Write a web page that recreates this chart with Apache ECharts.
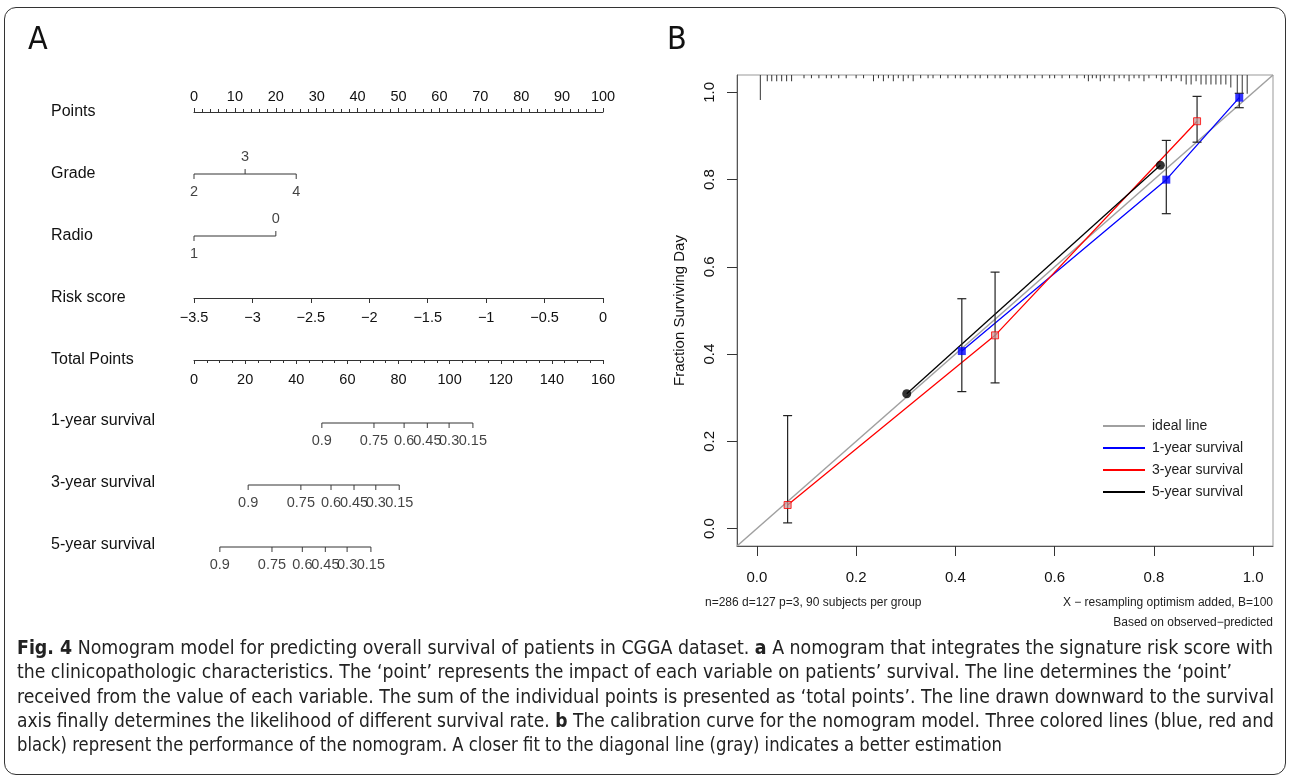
<!DOCTYPE html>
<html>
<head>
<meta charset="utf-8">
<script src="https://cdn.jsdelivr.net/npm/echarts@6/dist/echarts.min.js"></script>
<style>
html, body { margin: 0; padding: 0; background: #fff; }
#wrap { position: relative; width: 1290px; height: 780px; overflow: hidden; }
#chart { position: absolute; left: 0; top: 0; width: 1290px; height: 780px; }
.frame { position: absolute; left: 4px; top: 7px; width: 1282px; height: 768px; border: 1.5px solid #333; border-radius: 12px; box-sizing: border-box; }
.panel { position: absolute; top: 19px; font-family: "DejaVu Sans Condensed", "Liberation Sans Narrow", "Liberation Sans", sans-serif; font-size: 32px; color: #111; }
#caption { position: absolute; left: 17px; top: 635px; font-family: "DejaVu Sans Condensed", "Liberation Sans Narrow", "Liberation Sans", sans-serif; font-size: 19px; line-height: 24.3px; color: #222; }
#caption div { white-space: nowrap; transform-origin: 0 50%; width: max-content; }
</style>
</head>
<body>
<div id="wrap">
  <div id="chart"></div>
  <div class="frame"></div>
  <div class="panel" style="left:28px">A</div>
  <div class="panel" style="left:667px">B</div>
  <div id="caption">
    <div><b>Fig. 4</b> Nomogram model for predicting overall survival of patients in CGGA dataset. <b>a</b> A nomogram that integrates the signature risk score with</div>
    <div>the clinicopathologic characteristics. The ‘point’ represents the impact of each variable on patients’ survival. The line determines the ‘point’</div>
    <div>received from the value of each variable. The sum of the individual points is presented as ‘total points’. The line drawn downward to the survival</div>
    <div>axis finally determines the likelihood of different survival rate. <b>b</b> The calibration curve for the nomogram model. Three colored lines (blue, red and</div>
    <div>black) represent the performance of the nomogram. A closer fit to the diagonal line (gray) indicates a better estimation</div>
  </div>
</div>
<script>
// --- nomogram (panel A) ---
const rowNames = ['Points', 'Grade', 'Radio', 'Risk score', 'Total Points', '1-year survival', '3-year survival', '5-year survival'];
const gradeLevels = ['2', '3', '4'];
const gradePoints = [0, 12.5, 25];
const radioLevels = ['1', '0'];
const radioPoints = [0, 20];
const survLabels = ['0.9', '0.75', '0.6', '0.45', '0.3', '0.15'];
const surv1yPoints = [50.0, 70.4, 82.2, 91.3, 99.8, 109.1];
const surv3yPoints = [21.2, 41.8, 53.6, 62.6, 71.1, 80.3];
const surv5yPoints = [10.1, 30.5, 42.4, 51.4, 59.9, 69.2];

// --- calibration (panel B) ---
const calRange = [-0.04, 1.04];
const calTicks = [0, 0.2, 0.4, 0.6, 0.8, 1.0];
const cal1y = [[0.413, 0.407], [0.825, 0.800], [0.972, 0.988]];
const cal3y = [[0.062, 0.054], [0.480, 0.443], [0.887, 0.934]];
const cal5y = [[0.302, 0.309], [0.813, 0.833]];
const err1y = [[0.413, 0.314, 0.527], [0.825, 0.722, 0.890], [0.972, 0.965, 0.998]];
const err3y = [[0.062, 0.013, 0.259], [0.480, 0.334, 0.588], [0.887, 0.886, 0.991]];
const rugX = [0.007, 0.021, 0.030, 0.040, 0.050, 0.060, 0.070, 0.095, 0.110, 0.125, 0.140, 0.150, 0.165, 0.180, 0.200, 0.215,
  0.235, 0.245, 0.255, 0.265, 0.275, 0.285, 0.295, 0.305, 0.315, 0.330, 0.345, 0.355, 0.370, 0.385, 0.400, 0.410, 0.425,
  0.440, 0.450, 0.465, 0.480, 0.490, 0.505, 0.520, 0.530, 0.545, 0.560, 0.575, 0.590, 0.600, 0.615, 0.630, 0.645,
  0.660, 0.668, 0.676, 0.684, 0.692, 0.700, 0.710, 0.720, 0.730, 0.740, 0.750, 0.760, 0.770, 0.780, 0.790,
  0.805, 0.815, 0.825, 0.835, 0.845, 0.855, 0.865, 0.875, 0.885, 0.895, 0.905, 0.915, 0.925, 0.935, 0.945, 0.955,
  0.968, 0.978, 0.988];
const rugH = [8, 2, 2, 2, 2, 2, 2, 1, 1, 1, 1, 1, 1, 1, 1, 1,
  2, 1, 2, 1, 2, 1, 2, 1, 2, 1, 1, 1, 1, 1, 1, 1, 1,
  1, 1, 1, 1, 1, 1, 1, 1, 1, 1, 1, 1, 1, 1, 1, 1,
  1, 2, 1, 1, 2, 1, 1, 2, 1, 1, 2, 1, 1, 2, 1,
  1, 2, 1, 2, 1, 2, 3, 3, 2, 3, 3, 3, 3, 3, 3, 4,
  6, 6, 6];

const FONT = '"Liberation Sans", Arial, sans-serif';
const INK = '#333';
const rowY = [112, 174, 236, 298, 360, 423, 485, 547];

const chart = echarts.init(document.getElementById('chart'));

const grids = rowY.map((y, i) => {
  if (i === 0) return { left: 194, width: 409, top: y, height: 10 };
  if (i === 3 || i === 4) return { left: 194, width: 409, top: y - 10, height: 10 };
  return { left: 194, width: 409, top: y - 10, height: 20 };
});
grids.push({ left: 737, top: 75, width: 536, height: 471, show: true, borderColor: '#999', borderWidth: 1 });

const minus = v => String(v).replace('-', '\u2212');
const tickLabel = { fontSize: 14.5, color: '#111', fontFamily: FONT };

function hiddenX(i, max) {
  return { gridIndex: i, type: 'value', min: 0, max: max, show: false };
}
const xAxes = [
  { gridIndex: 0, type: 'value', min: 0, max: 100, interval: 10, position: 'top',
    axisLine: { onZero: false, lineStyle: { color: INK } },
    axisTick: { length: 4, lineStyle: { color: INK } },
    minorTick: { show: true, splitNumber: 5, length: 3, lineStyle: { color: INK } },
    axisLabel: Object.assign({ margin: 8 }, tickLabel), splitLine: { show: false } },
  hiddenX(1, 100),
  hiddenX(2, 100),
  { gridIndex: 3, type: 'value', min: -3.5, max: 0, interval: 0.5, position: 'bottom',
    axisLine: { onZero: false, lineStyle: { color: INK } },
    axisTick: { length: 5, lineStyle: { color: INK } },
    axisLabel: Object.assign({ margin: 12, formatter: minus }, tickLabel), splitLine: { show: false } },
  { gridIndex: 4, type: 'value', min: 0, max: 160, interval: 20, position: 'bottom',
    axisLine: { onZero: false, lineStyle: { color: INK } },
    axisTick: { length: 4, lineStyle: { color: INK } },
    minorTick: { show: true, splitNumber: 4, length: 3, lineStyle: { color: INK } },
    axisLabel: Object.assign({ margin: 12 }, tickLabel), splitLine: { show: false } },
  hiddenX(5, 160),
  hiddenX(6, 160),
  hiddenX(7, 160),
  { gridIndex: 8, type: 'value', min: calRange[0], max: calRange[1],
    axisLine: { onZero: false, lineStyle: { color: '#555' } },
    axisTick: { length: 10, customValues: calTicks, lineStyle: { color: INK } },
    axisLabel: { customValues: calTicks, formatter: v => v.toFixed(1), fontSize: 15, color: '#111', margin: 24, fontFamily: FONT },
    splitLine: { show: false } }
];

const yAxes = rowY.map((y, i) => ({ gridIndex: i, type: 'value', min: -1, max: 1, show: false }));
yAxes.push({ gridIndex: 8, type: 'value', min: calRange[0], max: calRange[1],
  axisLine: { onZero: false, lineStyle: { color: '#555' } },
  axisTick: { length: 10, customValues: calTicks, lineStyle: { color: INK } },
  axisLabel: { customValues: calTicks, formatter: v => v.toFixed(1), rotate: 90, fontSize: 15, color: '#111', margin: 20, fontFamily: FONT },
  name: 'Fraction Surviving Day', nameLocation: 'middle', nameGap: 50, nameRotate: 90,
  nameTextStyle: { fontSize: 15, color: '#111', fontFamily: FONT },
  splitLine: { show: false } });
// rug of predicted values hanging from the top of panel B
yAxes.push({ gridIndex: 8, type: 'value', min: 0, max: 150, inverse: true, show: false });

function scaleRow(idx, pts, labels, dirs) {
  return [
    { type: 'line', xAxisIndex: idx, yAxisIndex: idx, silent: true, symbol: 'none',
      data: [[pts[0], 0], [pts[pts.length - 1], 0]], lineStyle: { color: INK, width: 1 } },
    { type: 'scatter', xAxisIndex: idx, yAxisIndex: idx, silent: true, symbol: 'rect', symbolSize: [1.2, 5],
      itemStyle: { color: INK },
      data: pts.map((p, k) => ({
        value: [p, 0],
        symbolOffset: [0, dirs[k] * 2.5],
        label: { show: true, formatter: labels[k], position: dirs[k] > 0 ? 'bottom' : 'top', distance: 5,
          fontSize: 14.5, color: '#111', fontFamily: FONT }
      })) }
  ];
}

function errRender(params, api) {
  const x = api.value(0);
  const lo = api.coord([x, api.value(1)]);
  const hi = api.coord([x, api.value(2)]);
  const c = 4.5;
  const st = { stroke: '#222', lineWidth: 1.2 };
  return { type: 'group', children: [
    { type: 'line', shape: { x1: lo[0], y1: lo[1], x2: hi[0], y2: hi[1] }, style: st },
    { type: 'line', shape: { x1: lo[0] - c, y1: lo[1], x2: lo[0] + c, y2: lo[1] }, style: st },
    { type: 'line', shape: { x1: hi[0] - c, y1: hi[1], x2: hi[0] + c, y2: hi[1] }, style: st }
  ] };
}

const calLine = (name, data, color, w) => ({
  name: name, type: 'line', xAxisIndex: 8, yAxisIndex: 8, data: data, symbol: 'none', silent: true, z: 3,
  lineStyle: { color: color, width: w }, itemStyle: { color: color }
});

const series = [].concat(
  scaleRow(1, gradePoints, gradeLevels, [1, -1, 1]),
  scaleRow(2, radioPoints, radioLevels, [1, -1]),
  scaleRow(5, surv1yPoints, survLabels, [1, 1, 1, 1, 1, 1]),
  scaleRow(6, surv3yPoints, survLabels, [1, 1, 1, 1, 1, 1]),
  scaleRow(7, surv5yPoints, survLabels, [1, 1, 1, 1, 1, 1]),
  [
    { type: 'bar', xAxisIndex: 8, yAxisIndex: 9, silent: true, barWidth: 1, z: 2,
      itemStyle: { color: '#333' }, data: rugX.map((x, i) => [x, rugH[i]]) },
    calLine('ideal line', calRange.map(v => [v, v]), '#a0a0a0', 1.5),
    calLine('1-year survival', cal1y, '#0000ff', 1.3),
    calLine('3-year survival', cal3y, '#ff0000', 1.3),
    calLine('5-year survival', cal5y, '#000000', 1.3),
    { type: 'custom', xAxisIndex: 8, yAxisIndex: 8, silent: true, z: 4, renderItem: errRender,
      encode: { x: 0, y: [1, 2] }, data: err1y.concat(err3y) },
    { type: 'scatter', xAxisIndex: 8, yAxisIndex: 8, silent: true, z: 5, symbol: 'rect', symbolSize: 8,
      itemStyle: { color: '#0000ff' }, data: cal1y },
    { type: 'scatter', xAxisIndex: 8, yAxisIndex: 8, silent: true, z: 5, symbol: 'rect', symbolSize: 7,
      itemStyle: { color: 'rgba(200,150,150,0.9)', borderColor: '#ff0000', borderWidth: 1 }, data: cal3y },
    { type: 'scatter', xAxisIndex: 8, yAxisIndex: 8, silent: true, z: 5, symbol: 'circle', symbolSize: 9,
      itemStyle: { color: '#000' }, data: cal5y }
  ]
);

const graphics = rowNames.map((n, i) => ({
  type: 'text', left: 51, top: rowY[i] - 8 - (i > 4 ? 2 : 0),
  style: { text: n, fontSize: 16, fill: '#111', fontFamily: FONT }
}));
graphics.push(
  { type: 'text', left: 705, top: 597, style: { text: 'n=286 d=127 p=3, 90 subjects per group', fontSize: 12, fill: '#222', fontFamily: FONT } },
  { type: 'text', right: 17, top: 597, style: { text: 'X \u2212 resampling optimism added, B=100', fontSize: 12, fill: '#222', fontFamily: FONT } },
  { type: 'text', right: 17, top: 617, style: { text: 'Based on observed\u2212predicted', fontSize: 12, fill: '#222', fontFamily: FONT } }
);

chart.setOption({
  animation: false,
  textStyle: { fontFamily: FONT },
  grid: grids,
  xAxis: xAxes,
  yAxis: yAxes,
  legend: {
    data: ['ideal line', '1-year survival', '3-year survival', '5-year survival'],
    orient: 'vertical', left: 1098, top: 414, icon: 'rect', itemWidth: 42, itemHeight: 2, itemGap: 8,
    textStyle: { fontSize: 14, color: '#222', fontFamily: FONT, padding: [0, 0, 0, 2] }
  },
  graphic: graphics,
  series: series
});

// stretch each caption line to its measured width in the reference
const capWidths = [1256, 1215, 1257, 1257, 985];
document.querySelectorAll('#caption div').forEach((d, i) => {
  const w = d.getBoundingClientRect().width;
  d.style.transform = 'scaleX(' + (capWidths[i] / w) + ')';
});
</script>
</body>
</html>
